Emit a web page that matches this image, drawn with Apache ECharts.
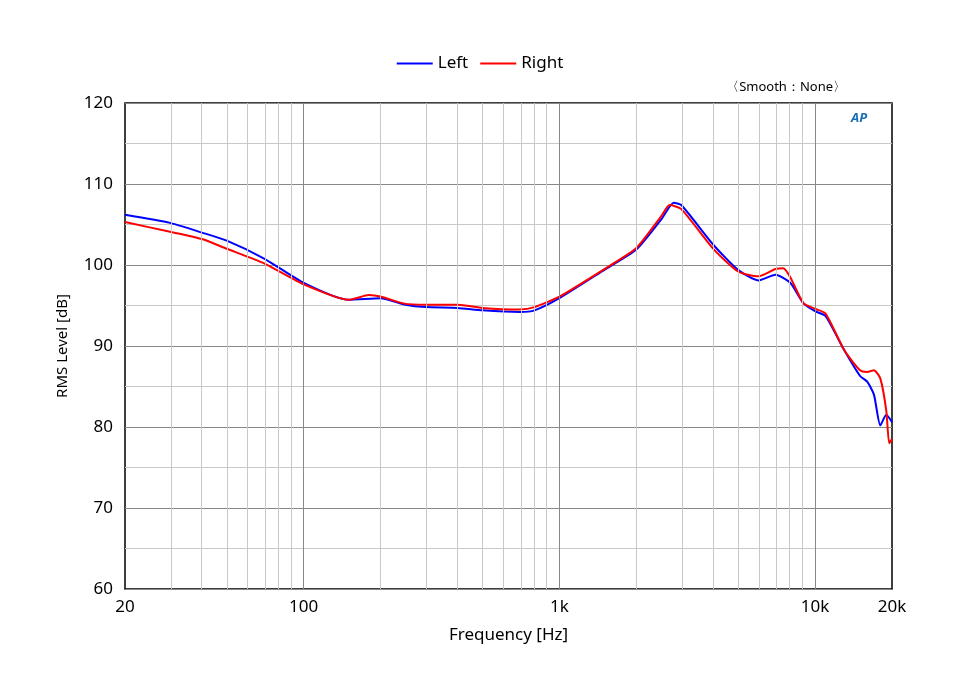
<!DOCTYPE html>
<html>
<head>
<meta charset="utf-8">
<script src="https://cdn.jsdelivr.net/npm/echarts@6/dist/echarts.min.js"></script>
<style>html,body{margin:0;background:#fff}#chart{width:960px;height:680px}</style>
</head>
<body>
<div id="chart"></div>
<script>
var leftFreq = [20, 30, 40, 50, 70, 100, 150, 200, 250, 300, 400, 500, 700, 800, 1000, 1500, 2000, 2500, 2800, 3000, 4000, 5000, 6000, 7000, 8000, 9000, 10000, 11000, 13000, 15000, 16000, 17000, 18000, 19000, 20000];
var leftDb = [106.2, 105.2, 104.0, 103.0, 100.8, 97.8, 95.7, 95.9, 95.1, 94.8, 94.7, 94.4, 94.2, 94.4, 95.9, 99.4, 101.9, 105.6, 107.7, 107.4, 102.5, 99.4, 98.1, 98.8, 97.8, 95.3, 94.3, 93.7, 89.5, 86.3, 85.6, 84.0, 80.2, 81.5, 80.6];
var rightFreq = [20, 30, 40, 50, 70, 100, 150, 180, 200, 250, 300, 400, 500, 700, 800, 1000, 1500, 2000, 2500, 2700, 3000, 4000, 5000, 6000, 7000, 7500, 8000, 9000, 10000, 11000, 13000, 15000, 16000, 17000, 18000, 19000, 19500, 20000];
var rightDb = [105.3, 104.1, 103.2, 102.0, 100.2, 97.6, 95.7, 96.3, 96.1, 95.2, 95.1, 95.1, 94.7, 94.5, 94.8, 96.1, 99.5, 102.1, 106.0, 107.4, 106.9, 102.0, 99.2, 98.6, 99.5, 99.6, 98.5, 95.3, 94.6, 94.0, 89.5, 87.0, 86.8, 87.0, 86.0, 82.0, 78.0, 78.5];
var gridFreqs = [30, 40, 50, 60, 70, 80, 90, 100, 200, 300, 400, 500, 600, 700, 800, 900, 1000, 2000, 3000, 4000, 5000, 6000, 7000, 8000, 9000, 10000];
var tickFreqs = [20, 100, 1000, 10000, 20000];
var tickNames = ['20', '100', '1k', '10k', '20k'];

function pairs(f, v) {
    return f.map(function (x, i) { return [Math.log10(x), v[i]]; });
}
function fmtTick(val) {
    for (var i = 0; i < tickFreqs.length; i++) {
        if (Math.abs(Math.log10(tickFreqs[i]) - val) < 1e-6) return tickNames[i];
    }
    return '';
}

var chart = echarts.init(document.getElementById('chart'));
var font = 'Noto Sans';
chart.setOption({
    animation: false,
    textStyle: { fontFamily: font },
    legend: {
        top: 50, left: 'center', itemWidth: 36, itemHeight: 2, itemGap: 12,
        icon: 'rect',
        textStyle: { fontSize: 17, color: '#000', fontFamily: font },
        data: ['Left', 'Right']
    },
    graphic: [
        { type: 'text', right: 114, top: 81, style: { text: '〈Smooth：None〉', fontSize: 13, fill: '#000', fontFamily: font } },
        { type: 'text', left: 851, top: 112, style: { text: 'AP', fontSize: 13, fontStyle: 'italic', fontWeight: 'bold', fill: '#1a6fb5', fontFamily: font } }
    ],
    grid: { left: 125, right: 68, top: 103, bottom: 91, show: true, borderColor: '#000', borderWidth: 1.5 },
    xAxis: {
        type: 'value', min: Math.log10(20), max: Math.log10(20000),
        name: 'Frequency [Hz]', nameLocation: 'middle', nameGap: 38,
        nameTextStyle: { fontSize: 17, color: '#000' },
        axisLine: { show: false }, axisTick: { show: false }, splitLine: { show: false },
        axisLabel: { customValues: tickFreqs.map(Math.log10), formatter: fmtTick, fontSize: 17, color: '#000', margin: 10 }
    },
    yAxis: {
        type: 'value', min: 60, max: 120, interval: 10,
        name: 'RMS Level [dB]', nameLocation: 'middle', nameGap: 55,
        nameTextStyle: { fontSize: 15, color: '#000' },
        axisLine: { show: false }, axisTick: { show: false },
        axisLabel: { fontSize: 17, color: '#000', margin: 12 },
        splitLine: { lineStyle: { color: '#888', width: 1 } },
        minorTick: { show: false, splitNumber: 2 },
        minorSplitLine: { show: true, lineStyle: { color: '#c8c8c8', width: 1 } }
    },
    series: [
        {
            name: 'Left', type: 'line', showSymbol: false, smooth: 0.2,
            lineStyle: { color: '#0000ff', width: 2 }, itemStyle: { color: '#0000ff' },
            data: pairs(leftFreq, leftDb),
            markLine: {
                silent: true, symbol: 'none', label: { show: false },
                data: gridFreqs.map(function (f) {
                    var major = f === 100 || f === 1000 || f === 10000;
                    return { xAxis: Math.log10(f), lineStyle: { color: major ? '#888' : '#c8c8c8', width: 1, type: 'solid' } };
                })
            },
            z: 3
        },
        {
            name: 'Right', type: 'line', showSymbol: false, smooth: 0.2,
            lineStyle: { color: '#ff0000', width: 2 }, itemStyle: { color: '#ff0000' },
            data: pairs(rightFreq, rightDb), z: 4
        }
    ]
});
</script>
</body>
</html>
